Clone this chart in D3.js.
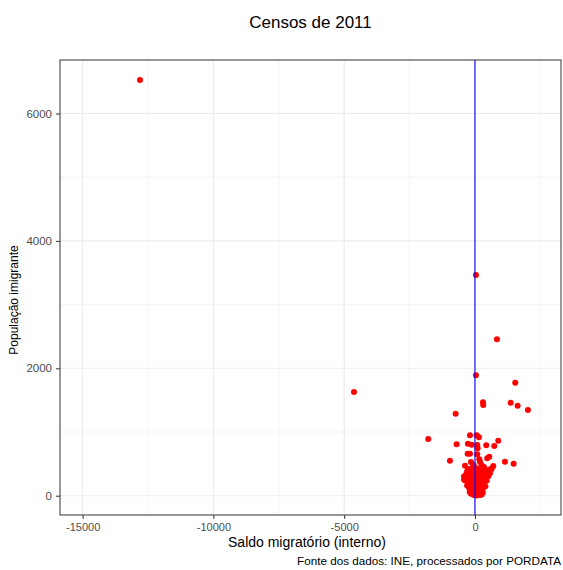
<!DOCTYPE html>
<html>
<head>
<meta charset="utf-8">
<script src="https://cdn.jsdelivr.net/npm/d3@7"></script>
<style>
  body { margin: 0; background: #fff; }
  text { font-family: "Liberation Sans", Arial, sans-serif; }
</style>
</head>
<body>
<svg class="svg-chart" width="563" height="570"></svg>
<script>
// Saldo migratório (interno) vs População imigrante, por município
var saldo = [-12806, -4625, 38, 841, 38, 1541, 306, 317, 1365, 1632, 2026, -738, -1785,
  -191, 65, 153, 891, -700, -268, -126, 88, 103, 432, 738, -279, -191, 88, 547, 470,
  -956, 1147, 1479, -153, 164, 191, 700, 573, 317, 382, -409,
  -250, -100, 50, 200, 350, 450, 600, -300, -380, 250, 520, -50,
  -350, -200, -80, 20, 100, 180, 260, 420, 520, -150, 300, 640, -420, 380,
  -400, -300, -200, -120, -50, 0, 60, 130, 210, 280, 350, 450, -250, 150,
  -300, -220, -150, -80, -20, 40, 90, 150, 200, 260, 320, 400, -180, 110, 0, -100,
  -200, -150, -100, -60, -20, 10, 40, 70, 100, 130, 170, 220, 260, 300, -30, 60, 150, -120, 200];

var imigrantes = [6526, 1627, 3465, 2455, 1890, 1774, 1466, 1424, 1460, 1413, 1345, 1287, 890,
  948, 948, 917, 863, 807, 816, 801, 796, 744, 791, 780, 659, 659, 650, 612, 587,
  549, 534, 502, 529, 571, 534, 466, 352, 455, 392, 246,
  420, 440, 430, 410, 445, 400, 420, 380, 470, 480, 360, 480,
  330, 350, 370, 320, 390, 340, 300, 330, 310, 310, 370, 420, 300, 270,
  260, 220, 280, 240, 290, 210, 260, 230, 280, 250, 210, 240, 200, 200,
  160, 120, 180, 140, 170, 110, 150, 130, 190, 160, 120, 150, 100, 180, 130, 190,
  60, 30, 80, 20, 50, 90, 30, 60, 15, 80, 40, 70, 20, 50, 10, 5, 95, 95, 10];

var xTicks = [-15000, -10000, -5000, 0];
var xMinor = [-12500, -7500, -2500, 2500];
var yTicks = [0, 2000, 4000, 6000];
var yMinor = [1000, 3000, 5000];

var data = saldo.map(function(d, i) { return {x: d, y: imigrantes[i]}; });

var panel = {left: 60, right: 561, top: 60, bottom: 515};

var x = d3.scaleLinear()
    .domain([-15865, 3290])
    .range([panel.left, panel.right]);

var y = d3.scaleLinear()
    .domain([-303, 6840])
    .range([panel.bottom, panel.top]);

var svg = d3.select(".svg-chart");

// grid
var grid = svg.append("g");
grid.selectAll(".vminor").data(xMinor).enter().append("line")
    .attr("x1", function(d) { return x(d); }).attr("x2", function(d) { return x(d); })
    .attr("y1", panel.top).attr("y2", panel.bottom)
    .style("stroke", "#ebebeb").style("stroke-width", 0.6);
grid.selectAll(".hminor").data(yMinor).enter().append("line")
    .attr("y1", function(d) { return y(d); }).attr("y2", function(d) { return y(d); })
    .attr("x1", panel.left).attr("x2", panel.right)
    .style("stroke", "#ebebeb").style("stroke-width", 0.6);
grid.selectAll(".vmajor").data(xTicks).enter().append("line")
    .attr("x1", function(d) { return x(d); }).attr("x2", function(d) { return x(d); })
    .attr("y1", panel.top).attr("y2", panel.bottom)
    .style("stroke", "#ebebeb").style("stroke-width", 1.1);
grid.selectAll(".hmajor").data(yTicks).enter().append("line")
    .attr("y1", function(d) { return y(d); }).attr("y2", function(d) { return y(d); })
    .attr("x1", panel.left).attr("x2", panel.right)
    .style("stroke", "#ebebeb").style("stroke-width", 1.1);

// points
svg.append("g").selectAll("circle")
    .data(data)
    .enter().append("circle")
    .attr("cx", function(d) { return x(d.x); })
    .attr("cy", function(d) { return y(d.y); })
    .attr("r", 3)
    .style("fill", "red");

// vertical line at zero
svg.append("line")
    .attr("x1", x(0)).attr("x2", x(0))
    .attr("y1", panel.top).attr("y2", panel.bottom)
    .style("stroke", "blue").style("stroke-width", 1.1);

// panel border
svg.append("rect")
    .attr("x", panel.left).attr("y", panel.top)
    .attr("width", panel.right - panel.left).attr("height", panel.bottom - panel.top)
    .style("fill", "none").style("stroke", "#333333").style("stroke-width", 1);

// axes
var plain = function(d) { return String(d); };

var xAxis = d3.axisBottom(x).tickValues(xTicks).tickFormat(plain)
    .tickSize(4).tickPadding(4).tickSizeOuter(0);
var gx = svg.append("g").attr("transform", "translate(0," + panel.bottom + ")").call(xAxis);
gx.select(".domain").remove();
gx.selectAll("line").style("stroke", "#333333");
gx.selectAll("text").style("fill", "#4d4d4d").style("font-size", "11px")
    .style("font-family", "'Liberation Sans', Arial, sans-serif");

var yAxis = d3.axisLeft(y).tickValues(yTicks).tickFormat(plain)
    .tickSize(4).tickPadding(4).tickSizeOuter(0);
var gy = svg.append("g").attr("transform", "translate(" + panel.left + ",0)").call(yAxis);
gy.select(".domain").remove();
gy.selectAll("line").style("stroke", "#333333");
gy.selectAll("text").style("fill", "#4d4d4d").style("font-size", "11.5px")
    .style("font-family", "'Liberation Sans', Arial, sans-serif");

// titles
svg.append("text")
    .attr("x", 310.5).attr("y", 28)
    .attr("text-anchor", "middle")
    .style("font-size", "17px")
    .text("Censos de 2011");

svg.append("text")
    .attr("x", 307).attr("y", 547)
    .attr("text-anchor", "middle")
    .style("font-size", "14px")
    .text("Saldo migratório (interno)");

svg.append("text")
    .attr("transform", "translate(18,300) rotate(-90)")
    .attr("text-anchor", "middle")
    .style("font-size", "12px")
    .text("População imigrante");

svg.append("text")
    .attr("x", 561).attr("y", 565)
    .attr("text-anchor", "end")
    .style("font-size", "11.7px")
    .text("Fonte dos dados: INE, processados por PORDATA");
</script>
</body>
</html>
